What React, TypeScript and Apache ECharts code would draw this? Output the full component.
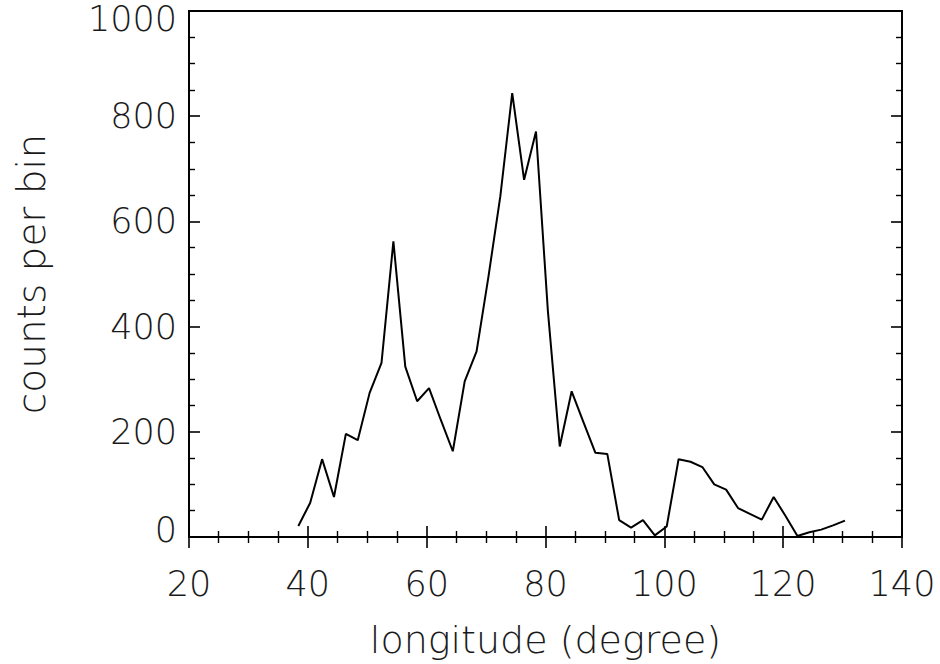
import React, { useEffect, useRef } from "react";
import * as echarts from "echarts";

// longitude bin centres (degree)
const longitudes = [
  38.4, 40.4, 42.4, 44.4, 46.4, 48.4, 50.4, 52.4, 54.4, 56.4,
  58.4, 60.4, 62.4, 64.4, 66.4, 68.4, 70.4, 72.4, 74.4, 76.4,
  78.4, 80.4, 82.4, 84.4, 86.4, 88.4, 90.4, 92.4, 94.4, 96.4,
  98.4, 100.4, 102.4, 104.4, 106.4, 108.4, 110.4, 112.4, 114.4, 116.4,
  118.4, 120.4, 122.4, 124.4, 126.4, 128.4, 130.4,
];
// counts per bin
const counts = [
  21, 65, 148, 76, 196, 184, 274, 331, 562, 324,
  258, 283, 222, 163, 296, 353, 495, 648, 844, 679,
  771, 430, 172, 277, 218, 160, 158, 32, 18, 32,
  3, 20, 148, 143, 133, 100, 90, 55, 44, 33,
  76, 40, 2, 9, 14, 22, 31,
];
const xTicks = [20, 40, 60, 80, 100, 120, 140];
const yTicks = [0, 200, 400, 600, 800, 1000];

const FONT = "DejaVu Sans";
const TXT = "#1a1a1a";
const FS = 35;

export default function App() {
  const ref = useRef<HTMLDivElement>(null);
  useEffect(() => {
    if (!ref.current) return;
    const chart = echarts.init(ref.current, null, { renderer: "svg" });
    const axisLine = { show: true, lineStyle: { color: "#000", width: 1.8 } };
    const tick = { show: true, inside: true, length: 11, lineStyle: { color: "#000", width: 1.6 } };
    const minor = { show: true, splitNumber: 4, length: 6, lineStyle: { color: "#000", width: 1.4 } };
    const xMin = xTicks[0];
    const xMax = xTicks[xTicks.length - 1];
    const yMin = yTicks[0];
    const yMax = yTicks[yTicks.length - 1];
    const txt = { fontSize: FS, fontFamily: FONT, fontWeight: 200, color: TXT };
    chart.setOption({
      animation: false,
      backgroundColor: "#fff",
      grid: {
        left: 189,
        top: 11,
        width: 713,
        height: 526,
        containLabel: false,
        outerBoundsMode: "none",
        show: true,
        borderColor: "#000",
        borderWidth: 1.8,
        backgroundColor: "transparent",
      },
      xAxis: [
        {
          type: "value",
          position: "bottom",
          min: xMin,
          max: xMax,
          interval: 20,
          axisLine,
          axisTick: tick,
          minorTick: minor,
          splitLine: { show: false },
          axisLabel: { show: true, margin: 29, ...txt },
          name: "longitude (degree)",
          nameLocation: "middle",
          nameGap: 84,
          nameTextStyle: { ...txt, fontSize: 38 },
        },
        {
          type: "value",
          position: "top",
          min: xMin,
          max: xMax,
          interval: 20,
          axisLine,
          axisTick: tick,
          minorTick: minor,
          splitLine: { show: false },
          axisLabel: { show: false },
        },
      ],
      yAxis: [
        {
          type: "value",
          position: "left",
          min: yMin,
          max: yMax,
          interval: 200,
          axisLine,
          axisTick: tick,
          minorTick: minor,
          splitLine: { show: false },
          axisLabel: {
            show: true,
            margin: 12,
            ...txt,
            formatter: (v: number) =>
              v === yMax ? `{top|${v}}` : v === yMin ? `{bot|${v}}` : `${v}`,
            rich: {
              top: { ...txt, padding: [16, 0, 0, 0] },
              bot: { ...txt, padding: [0, 0, 14, 0] },
            },
          },
          name: "counts per bin",
          nameLocation: "middle",
          nameGap: 138,
          nameRotate: 90,
          nameTextStyle: { ...txt, fontSize: 39 },
        },
        {
          type: "value",
          position: "right",
          min: yMin,
          max: yMax,
          interval: 200,
          axisLine,
          axisTick: tick,
          minorTick: minor,
          splitLine: { show: false },
          axisLabel: { show: false },
        },
      ],
      series: [
        {
          type: "line",
          xAxisIndex: 0,
          yAxisIndex: 0,
          data: longitudes.map((x, i) => [x, counts[i]]),
          showSymbol: false,
          lineStyle: { color: "#000", width: 2 },
          silent: true,
        },
      ],
    });
    return () => chart.dispose();
  }, []);
  return (
    <div
      ref={ref}
      style={{ position: "fixed", left: 0, top: 0, width: 940, height: 664, background: "#fff" }}
    />
  );
}
